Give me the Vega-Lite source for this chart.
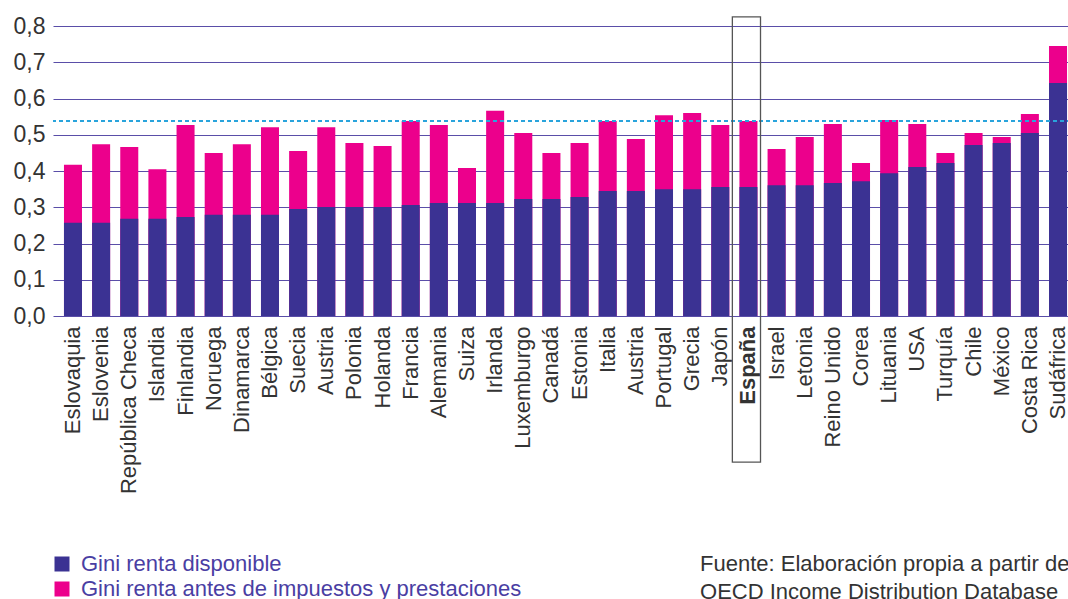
{
  "$schema": "https://vega.github.io/schema/vega-lite/v6.json",
  "width": 1025,
  "height": 290,
  "autosize": {"type": "none"},
  "padding": {"left": 53, "top": 26, "right": 0, "bottom": 283},
  "background": "white",
  "config": {
    "font": "Liberation Sans",
    "view": {"stroke": null},
    "axisY": {
      "title": null,
      "labelFontSize": 23,
      "labelColor": "#333333",
      "labelPadding": 8,
      "labelOverlap": false,
      "labelFlush": false,
      "domain": false,
      "ticks": false,
      "grid": true,
      "gridColor": "#5a4ea8",
      "gridWidth": 1.2
    }
  },
  "title": {
    "text": ["Fuente: Elaboración propia a partir de", "\u00a0OECD Income Distribution Database"],
    "orient": "bottom",
    "anchor": "start",
    "dx": 687,
    "offset": -46,
    "fontSize": 22,
    "fontWeight": "normal",
    "color": "#333333",
    "lineHeight": 28
  },
  "data": {
    "values": [
      {"pais": "Eslovaquia", "disp": 0.257, "antes": 0.417},
      {"pais": "Eslovenia", "disp": 0.257, "antes": 0.474},
      {"pais": "República Checa", "disp": 0.268, "antes": 0.466},
      {"pais": "Islandia", "disp": 0.268, "antes": 0.405},
      {"pais": "Finlandia", "disp": 0.273, "antes": 0.527},
      {"pais": "Noruega", "disp": 0.279, "antes": 0.450},
      {"pais": "Dinamarca", "disp": 0.279, "antes": 0.474},
      {"pais": "Bélgica", "disp": 0.279, "antes": 0.521},
      {"pais": "Suecia", "disp": 0.295, "antes": 0.455},
      {"pais": "Austria", "disp": 0.301, "antes": 0.521},
      {"pais": "Polonia", "disp": 0.301, "antes": 0.477},
      {"pais": "Holanda", "disp": 0.301, "antes": 0.469},
      {"pais": "Francia", "disp": 0.306, "antes": 0.538},
      {"pais": "Alemania", "disp": 0.312, "antes": 0.527},
      {"pais": "Suiza", "disp": 0.312, "antes": 0.408},
      {"pais": "Irlanda", "disp": 0.312, "antes": 0.566},
      {"pais": "Luxemburgo", "disp": 0.323, "antes": 0.505},
      {"pais": "Canadá", "disp": 0.323, "antes": 0.450},
      {"pais": "Estonia", "disp": 0.328, "antes": 0.477},
      {"pais": "Italia", "disp": 0.345, "antes": 0.538},
      {"pais": "Austria (2)", "disp": 0.345, "antes": 0.488},
      {"pais": "Portugal", "disp": 0.350, "antes": 0.554},
      {"pais": "Grecia", "disp": 0.350, "antes": 0.560},
      {"pais": "Japón", "disp": 0.356, "antes": 0.527},
      {"pais": "España", "disp": 0.356, "antes": 0.538},
      {"pais": "Israel", "disp": 0.361, "antes": 0.461},
      {"pais": "Letonia", "disp": 0.361, "antes": 0.494},
      {"pais": "Reino Unido", "disp": 0.367, "antes": 0.530},
      {"pais": "Corea", "disp": 0.372, "antes": 0.422},
      {"pais": "Lituania", "disp": 0.394, "antes": 0.541},
      {"pais": "USA", "disp": 0.411, "antes": 0.530},
      {"pais": "Turquía", "disp": 0.422, "antes": 0.450},
      {"pais": "Chile", "disp": 0.472, "antes": 0.505},
      {"pais": "México", "disp": 0.477, "antes": 0.494},
      {"pais": "Costa Rica", "disp": 0.505, "antes": 0.557},
      {"pais": "Sudáfrica", "disp": 0.643, "antes": 0.745}
    ]
  },
  "layer": [
    {
      "transform": [{"fold": ["antes", "disp"], "as": ["serie", "valor"]}],
      "mark": {"type": "bar"},
      "encoding": {
        "x": {
          "field": "pais",
          "type": "nominal",
          "sort": null,
          "scale": {"paddingInner": 0.36, "paddingOuter": 0.39},
          "axis": {
            "title": null,
            "labelAngle": -90,
            "labelFontSize": 22,
            "labelColor": "#333333",
            "labelPadding": 10,
            "labelExpr": "replace(datum.label, ' (2)', '')",
            "labelFontWeight": {"condition": {"test": "datum.value == 'España'", "value": "bold"}, "value": "normal"},
            "domain": false,
            "ticks": false,
            "grid": false
          }
        },
        "y": {
          "field": "valor",
          "type": "quantitative",
          "stack": null,
          "scale": {"domain": [0, 0.8], "nice": false},
          "axis": {
            "values": [0, 0.1, 0.2, 0.3, 0.4, 0.5, 0.6, 0.7, 0.8],
            "labelExpr": "replace(format(datum.value, '.1f'), '.', ',')"
          }
        },
        "color": {
          "field": "serie",
          "type": "nominal",
          "scale": {"domain": ["disp", "antes"], "range": ["#3b3293", "#ec008c"]},
          "legend": {
            "title": null,
            "orient": "none",
            "legendX": -2,
            "legendY": 527,
            "direction": "vertical",
            "symbolType": "square",
            "symbolSize": 225,
            "symbolStrokeWidth": 0,
            "labelFontSize": 22,
            "labelColor": "#4a3ea3",
            "labelOffset": 8,
            "rowPadding": 3,
            "labelLimit": 700,
            "labelExpr": "datum.value == 'disp' ? 'Gini renta disponible' : 'Gini renta antes de impuestos y prestaciones'"
          }
        }
      }
    },
    {
      "mark": {"type": "rule", "color": "#2aa4dc", "strokeDash": [4, 3], "strokeWidth": 1.3},
      "encoding": {
        "y": {
          "datum": 0.538,
          "axis": {
            "values": [0, 0.1, 0.2, 0.3, 0.4, 0.5, 0.6, 0.7, 0.8],
            "labelExpr": "replace(format(datum.value, '.1f'), '.', ',')"
          }
        }
      }
    },
    {
      "transform": [{"filter": "datum.pais == 'España'"}],
      "mark": {"type": "bar", "filled": false, "stroke": "#555555", "strokeWidth": 1.3, "width": {"band": 1.5625}, "xOffset": -2},
      "encoding": {
        "x": {"field": "pais", "type": "nominal", "sort": null},
        "y": {
          "datum": 0.825,
          "axis": {
            "values": [0, 0.1, 0.2, 0.3, 0.4, 0.5, 0.6, 0.7, 0.8],
            "labelExpr": "replace(format(datum.value, '.1f'), '.', ',')"
          }
        },
        "y2": {"datum": -0.403}
      }
    }
  ]
}
